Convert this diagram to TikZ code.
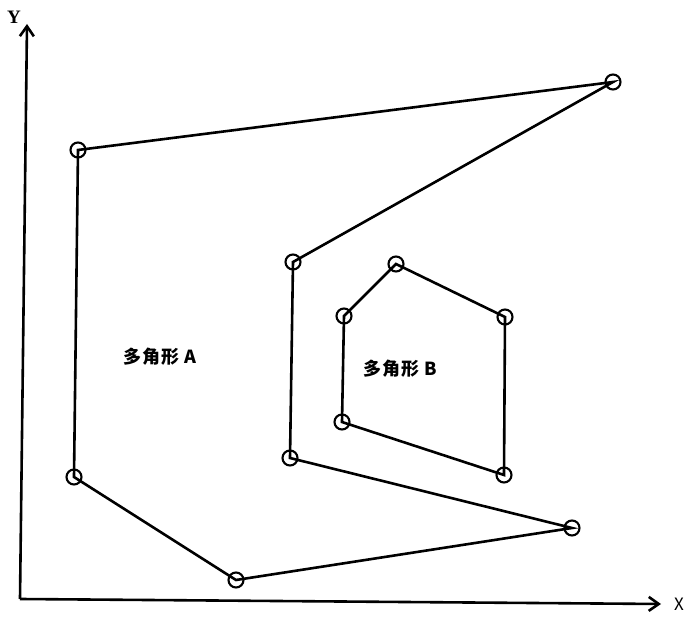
\documentclass[tikz,border=0pt]{standalone}
\usepackage{fontspec}
\newfontfamily\cjk{Noto Sans CJK SC}
\newfontfamily\lat{Liberation Serif}
\usetikzlibrary{arrows.meta}
\begin{document}
\begin{tikzpicture}[x=1pt,y=-1pt,
  edge/.style={line width=2.6pt},
  vtx/.style={circle,draw,line width=2.1pt,minimum size=15pt,inner sep=0pt},
  axis/.style={line width=2.6pt,-{Straight Barb[length=10pt,width=14pt,line width=2.6pt]}},
  lbl/.style={font=\cjk\bfseries\fontsize{18}{18}\selectfont}]
\useasboundingbox (0,0) rectangle (686,617);
\coordinate (O) at (20,599);
\coordinate (Ytip) at (27,24);
\coordinate (Xtip) at (661,604);
\draw[axis] (O) -- (Ytip);
\draw[axis] (O) -- (Xtip);
\node[font=\lat\bfseries\fontsize{19}{19}\selectfont] (ylab) at (14,17) {Y};
\node[font=\cjk\fontsize{17}{17}\selectfont] (xlab) at (679,604) {X};
% polygon A
\node[vtx] (a1) at (78,150) {};
\node[vtx] (a2) at (613,82) {};
\node[vtx] (a3) at (293,262) {};
\node[vtx] (a4) at (290,458) {};
\node[vtx] (a5) at (572,528) {};
\node[vtx] (a6) at (236,580) {};
\node[vtx] (a7) at (74,477) {};
\draw[edge] (a1.center) -- (a2.center) -- (a3.center) -- (a4.center) -- (a5.center) -- (a6.center) -- (a7.center) -- cycle;
% polygon B
\node[vtx] (b1) at (396,264) {};
\node[vtx] (b2) at (505,317) {};
\node[vtx] (b3) at (504,475) {};
\node[vtx] (b4) at (342,422) {};
\node[vtx] (b5) at (344,316) {};
\draw[edge] (b1.center) -- (b2.center) -- (b3.center) -- (b4.center) -- (b5.center) -- cycle;
\node[lbl] (la) at (160,357) {多\hspace{1pt}角\hspace{1pt}形\hspace{5pt}A};
\node[lbl] (lb) at (400,369) {多\hspace{1pt}角\hspace{1pt}形\hspace{5pt}B};
\end{tikzpicture}
\end{document}
